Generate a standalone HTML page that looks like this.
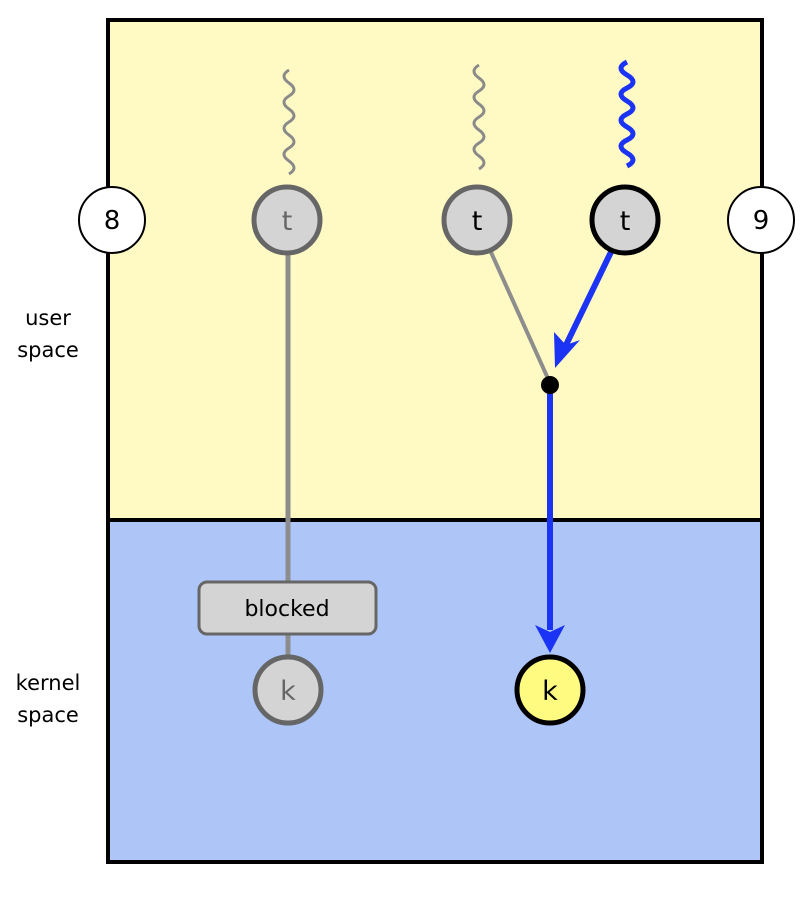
<!DOCTYPE html>
<html><head><meta charset="utf-8"><style>
html,body{margin:0;padding:0;background:#fff;}
text{font-family:"DejaVu Sans","Liberation Sans",sans-serif;}
</style></head><body>
<svg width="800" height="894" viewBox="0 0 800 894" xmlns="http://www.w3.org/2000/svg">
<rect x="108" y="20" width="654" height="500" fill="#fffac3"/>
<rect x="108" y="520" width="654" height="342" fill="#adc5f7"/>
<rect x="108" y="20" width="654" height="842" fill="none" stroke="#000" stroke-width="4"/>
<line x1="108" y1="520" x2="762" y2="520" stroke="#000" stroke-width="4"/>
<text x="48" y="325" font-size="21" text-anchor="middle">user</text>
<text x="48" y="357" font-size="21" text-anchor="middle">space</text>
<text x="48" y="690" font-size="21" text-anchor="middle">kernel</text>
<text x="48" y="722" font-size="21" text-anchor="middle">space</text>
<!-- squiggles -->
<path d="M289 70 q-10 6 0 13 q10 7 0 13 q-10 6 0 13 q10 7 0 13 q-10 6 0 13 q10 7 0 13 q-10 6 0 13 q10 7 0 13" fill="none" stroke="#8a8a8a" stroke-width="3"/>
<path d="M479 65 q-10 6 0 13 q10 7 0 13 q-10 6 0 13 q10 7 0 13 q-10 6 0 13 q10 7 0 13 q-10 6 0 13 q10 7 0 13" fill="none" stroke="#8a8a8a" stroke-width="3"/>
<path d="M627 62 q-12 6 0 13 q12 7 0 13 q-12 6 0 13 q12 7 0 13 q-12 6 0 13 q12 7 0 13 q-12 6 0 13 q12 7 0 13" fill="none" stroke="#1a33f5" stroke-width="5"/>
<!-- lines -->
<line x1="288" y1="254" x2="288" y2="582" stroke="#8d8d8d" stroke-width="5"/>
<line x1="288" y1="634" x2="288" y2="656" stroke="#8d8d8d" stroke-width="5"/>
<line x1="490" y1="250" x2="550" y2="383" stroke="#8d8d8d" stroke-width="4"/>
<line x1="611" y1="252" x2="566" y2="345" stroke="#1a33f5" stroke-width="6"/>
<polygon points="555,368 554,332 566,345 580,340" fill="#1a33f5"/>
<line x1="550" y1="385" x2="550" y2="630" stroke="#1a33f5" stroke-width="6"/>
<polygon points="550,653 535,625 550,632 565,625" fill="#1a33f5"/>
<circle cx="550" cy="385" r="9" fill="#000"/>
<!-- nodes -->
<circle cx="112" cy="220" r="33" fill="#fff" stroke="#000" stroke-width="2"/>
<text x="112" y="229" font-size="26" text-anchor="middle">8</text>
<circle cx="761" cy="220" r="33" fill="#fff" stroke="#000" stroke-width="2"/>
<text x="761" y="229" font-size="26" text-anchor="middle">9</text>
<circle cx="287" cy="220" r="33" fill="#d4d4d4" stroke="#666" stroke-width="5"/>
<text x="287" y="230" font-size="27" text-anchor="middle" fill="#666">t</text>
<circle cx="477" cy="220" r="33" fill="#d4d4d4" stroke="#666" stroke-width="5"/>
<text x="477" y="230" font-size="27" text-anchor="middle" fill="#000">t</text>
<circle cx="625" cy="220" r="33" fill="#d4d4d4" stroke="#000" stroke-width="5"/>
<text x="625" y="230" font-size="27" text-anchor="middle" fill="#000">t</text>
<rect x="199" y="582" width="177" height="52" rx="8" fill="#d4d4d4" stroke="#666" stroke-width="3"/>
<text x="287" y="616" font-size="22" text-anchor="middle">blocked</text>
<circle cx="288" cy="690" r="33" fill="#d4d4d4" stroke="#666" stroke-width="5"/>
<text x="288" y="700" font-size="27" text-anchor="middle" fill="#666">k</text>
<circle cx="550" cy="690" r="33" fill="#fffa80" stroke="#000" stroke-width="5"/>
<text x="550" y="700" font-size="27" text-anchor="middle">k</text>
</svg>
</body></html>
